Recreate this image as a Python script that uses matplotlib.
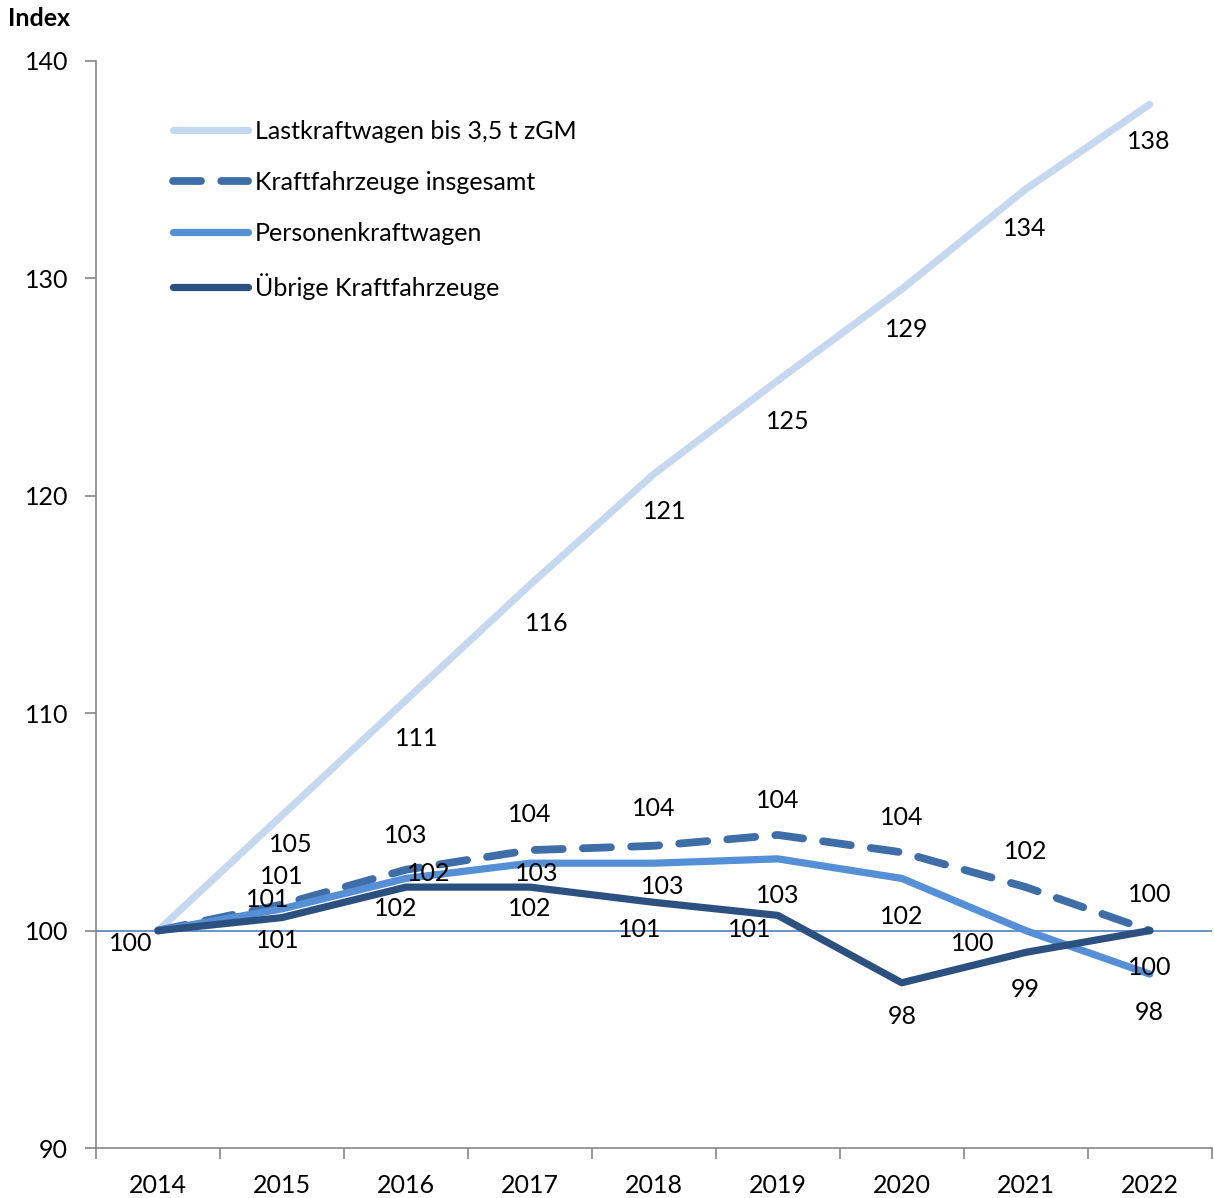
import matplotlib.pyplot as plt
import numpy as np

plt.rcParams['font.family'] = ['Lato', 'DejaVu Sans']

years = ["2014", "2015", "2016", "2017", "2018", "2019", "2020", "2021", "2022"]

# index values (2014 = 100)
lkw = [100, 105.3, 110.6, 115.9, 121.0, 125.3, 129.5, 134.1, 138.0]
kfz = [100, 101.2, 102.8, 103.7, 103.9, 104.4, 103.6, 102.0, 100.0]
pkw = [100, 101.0, 102.4, 103.1, 103.1, 103.3, 102.4, 100.0, 98.0]
uebrige = [100, 100.6, 102.0, 102.0, 101.3, 100.7, 97.6, 99.0, 100.0]

# printed labels
lkw_lab = ["", "105", "111", "116", "121", "125", "129", "134", "138"]
kfz_lab = ["", "101", "103", "104", "104", "104", "104", "102", "100"]
pkw_lab = ["", "101", "102", "103", "103", "103", "102", "100", "98"]
ueb_lab = ["100", "101", "102", "102", "101", "101", "98", "99", "100"]

# label offsets in pixels (dx, dy downwards)
lkw_off = [(0, 0), (9, 29), (11, 38), (17, 39), (11, 38), (10, 41), (5, 40), (-1, 39), (-1, 37)]
kfz_off = [(0, 0), (0, -28), (0, -34), (0, -36), (0, -37), (0, -34), (0, -35), (0, -36), (0, -36)]
pkw_off = [(0, 0), (-14, -9), (23, -5), (7, 10), (9, 23), (0, 37), (0, 38), (-53, 13), (0, 38)]
ueb_off = [(-27, 13), (-4, 23), (-10, 21), (0, 21), (-14, 27), (-28, 14), (0, 34), (0, 37), (0, 37)]

fig = plt.figure(figsize=(12.14, 11.98), dpi=100)
ax = fig.add_axes([0.0791, 0.0417, 0.919, 0.9075])

x = np.arange(len(years))
fs = 18

ax.axhline(100, color='#4f81bd', lw=1.2, zorder=1)

l1, = ax.plot(x, lkw, color='#c6d8ef', lw=5.2, solid_capstyle='round', label='Lastkraftwagen bis 3,5 t zGM')
l2, = ax.plot(x, kfz, color='#3e6da8', lw=5.6, dashes=(3.6, 2.6), dash_capstyle='round', label='Kraftfahrzeuge insgesamt')
l3, = ax.plot(x, pkw, color='#558fd6', lw=5.2, solid_capstyle='round', label='Personenkraftwagen')
l4, = ax.plot(x, uebrige, color='#2c5080', lw=5.2, solid_capstyle='round', label='Übrige Kraftfahrzeuge')

for vals, labs, offs in [(lkw, lkw_lab, lkw_off), (kfz, kfz_lab, kfz_off),
                         (pkw, pkw_lab, pkw_off), (uebrige, ueb_lab, ueb_off)]:
    for i in range(len(years)):
        if labs[i]:
            ax.annotate(labs[i], (x[i], vals[i]), xytext=(offs[i][0], -offs[i][1]),
                        textcoords='offset pixels', ha='center', va='center', fontsize=fs)

ax.set_xlim(-0.5, len(years) - 0.5)
ax.set_ylim(90, 140)
ax.set_yticks(np.arange(90, 141, 10))
ax.set_xticks(x)
ax.set_xticklabels(years)
ax.set_xticks(np.arange(-0.5, len(years), 1), minor=True)
ax.tick_params(axis='x', which='major', length=0, labelsize=fs, pad=19)
ax.tick_params(axis='x', which='minor', length=8, color='#868686', width=1.2)
ax.tick_params(axis='y', length=8, color='#868686', width=1.2, labelsize=fs, pad=12)

for s in ['top', 'right']:
    ax.spines[s].set_visible(False)
for s in ['left', 'bottom']:
    ax.spines[s].set_color('#868686')
    ax.spines[s].set_linewidth(1.2)

leg = ax.legend(handles=[l1, l2, l3, l4], loc='upper left', bbox_to_anchor=(0.06, 0.955),
                frameon=False, fontsize=fs, handlelength=3.0, handletextpad=0.28,
                labelspacing=1.12, borderaxespad=0)

fig.text(8 / 1214, 1 - 18 / 1198, 'Index', fontsize=fs, fontweight='bold', va='center', ha='left')

fig.savefig('out.png', dpi=100)
